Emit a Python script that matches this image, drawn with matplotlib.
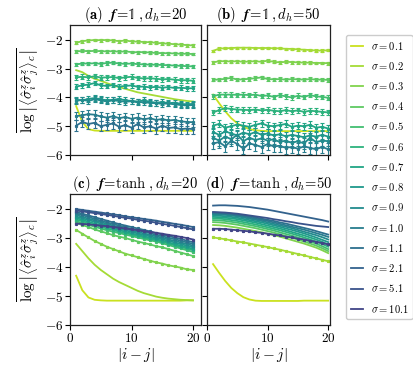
import matplotlib
matplotlib.use("Agg")
import matplotlib.pyplot as plt
import numpy as np
from matplotlib.lines import Line2D

plt.rcParams['mathtext.fontset'] = 'cm'
plt.rcParams['font.family'] = 'serif'
plt.rcParams['font.serif'] = ['cmr10', 'DejaVu Serif']
plt.rcParams['axes.formatter.use_mathtext'] = True

x = np.arange(1, 21)
sigmas = ['0.1', '0.2', '0.3', '0.4', '0.5', '0.6', '0.7', '0.8', '0.9', '1.0', '1.1', '2.1', '5.1', '10.1']
colors = plt.cm.viridis(np.linspace(0.92, 0.2, len(sigmas)))

########  (a) f = 1, d_h = 20  ########
a_data = {
    '0.1': [-4.30, -4.85, -5.10, -5.15, -5.16, -5.16, -5.16, -5.16, -5.16, -5.16, -5.16, -5.16, -5.16, -5.16, -5.16, -5.16, -5.16, -5.16, -5.16, -5.16],
    '0.2': [-3.05, -3.12, -3.25, -3.35, -3.42, -3.50, -3.58, -3.64, -3.70, -3.76, -3.82, -3.86, -3.90, -3.94, -3.98, -4.02, -4.06, -4.09, -4.12, -4.14],
    '0.3': [-2.10, -2.04, -2.02, -2.00, -2.01, -2.00, -2.02, -2.04, -2.02, -2.05, -2.06, -2.07, -2.08, -2.10, -2.12, -2.13, -2.15, -2.16, -2.18, -2.19],
    '0.4': [-2.40, -2.38, -2.39, -2.38, -2.39, -2.40, -2.39, -2.41, -2.40, -2.42, -2.43, -2.42, -2.44, -2.45, -2.46, -2.46, -2.47, -2.48, -2.48, -2.49],
    '0.5': [-2.85, -2.82, -2.82, -2.81, -2.83, -2.80, -2.79, -2.82, -2.83, -2.82, -2.84, -2.85, -2.86, -2.86, -2.87, -2.88, -2.89, -2.90, -2.91, -2.92],
    '0.6': [-3.30, -3.28, -3.30, -3.26, -3.31, -3.30, -3.29, -3.33, -3.30, -3.28, -3.32, -3.34, -3.33, -3.35, -3.37, -3.36, -3.38, -3.40, -3.40, -3.42],
    '0.7': [-3.62, -3.58, -3.55, -3.50, -3.58, -3.60, -3.57, -3.62, -3.60, -3.58, -3.63, -3.62, -3.65, -3.63, -3.66, -3.64, -3.67, -3.66, -3.68, -3.68],
    '0.8': [-4.08, -4.10, -4.05, -4.02, -4.06, -4.10, -4.08, -4.05, -4.10, -4.12, -4.14, -4.10, -4.15, -4.18, -4.16, -4.20, -4.18, -4.22, -4.24, -4.22],
    '0.9': [-4.12, -4.08, -4.12, -4.06, -4.10, -4.14, -4.10, -4.12, -4.15, -4.13, -4.17, -4.16, -4.19, -4.20, -4.22, -4.21, -4.24, -4.26, -4.28, -4.26],
    '1.0': [-4.65, -4.62, -4.58, -4.60, -4.66, -4.70, -4.65, -4.72, -4.68, -4.74, -4.70, -4.76, -4.72, -4.78, -4.75, -4.80, -4.78, -4.83, -4.85, -4.86],
    '1.1': [-4.98, -4.85, -4.92, -4.88, -5.00, -4.95, -4.90, -5.02, -4.96, -5.05, -4.92, -5.04, -5.00, -5.08, -4.98, -5.06, -5.04, -5.10, -5.08, -5.10],
}
a_err = {'0.3': 0.05, '0.4': 0.05, '0.5': 0.06, '0.6': 0.08, '0.7': 0.08,
         '0.8': 0.10, '0.9': 0.10, '1.0': 0.15, '1.1': 0.18}

########  (b) f = 1, d_h = 50  ########
b_data = {
    '0.1': [-3.90, -4.20, -4.48, -4.72, -4.90, -5.02, -5.10, -5.14, -5.16, -5.17, -5.17, -5.17, -5.17, -5.17, -5.17, -5.17, -5.17, -5.17, -5.17, -5.17],
    '0.2': [-2.38, -2.30, -2.29, -2.28, -2.27, -2.27, -2.27, -2.28, -2.28, -2.28, -2.29, -2.29, -2.31, -2.31, -2.33, -2.34, -2.35, -2.37, -2.37, -2.36],
    '0.3': [-2.78, -2.74, -2.74, -2.75, -2.74, -2.76, -2.75, -2.74, -2.76, -2.72, -2.76, -2.78, -2.76, -2.77, -2.78, -2.79, -2.79, -2.80, -2.80, -2.81],
    '0.4': [-3.38, -3.38, -3.35, -3.32, -3.38, -3.37, -3.35, -3.33, -3.30, -3.36, -3.37, -3.36, -3.38, -3.36, -3.37, -3.38, -3.36, -3.38, -3.38, -3.39],
    '0.5': [-3.96, -3.90, -3.90, -3.90, -3.91, -3.90, -3.92, -3.90, -3.95, -3.93, -3.98, -3.92, -3.96, -4.00, -3.94, -3.98, -3.92, -3.96, -3.98, -4.01],
    '0.6': [-4.52, -4.44, -4.37, -4.40, -4.42, -4.43, -4.44, -4.42, -4.45, -4.43, -4.46, -4.48, -4.44, -4.48, -4.45, -4.50, -4.46, -4.48, -4.50, -4.52],
    '0.7': [-4.98, -4.92, -5.05, -5.00, -4.94, -4.98, -5.02, -4.95, -4.90, -4.98, -5.00, -4.96, -4.92, -5.02, -4.98, -5.00, -4.95, -5.05, -5.02, -5.08],
    '0.8': [-5.20, -5.30, -5.18, -5.25, -5.32, -5.22, -5.28, -5.20, -5.30, -5.25, -5.32, -5.28, -5.35, -5.30, -5.34, -5.38, -5.32, -5.36, -5.30, -5.36],
    '0.9': [-5.40, -5.50, -5.36, -5.45, -5.30, -5.52, -5.40, -5.48, -5.42, -5.50, -5.45, -5.55, -5.50, -5.58, -5.52, -5.60, -5.40, -5.55, -5.50, -5.52],
    '1.0': [-5.60, -5.55, -5.70, -5.50, -5.62, -5.78, -5.60, -5.65, -5.72, -5.62, -5.70, -5.68, -5.75, -5.72, -5.78, -5.70, -5.75, -5.80, -5.72, -5.80],
}
b_err = {'0.2': 0.04, '0.3': 0.05, '0.4': 0.06, '0.5': 0.08, '0.6': 0.10,
         '0.7': 0.12, '0.8': 0.15, '0.9': 0.18, '1.0': 0.20}

########  (c) f = tanh, d_h = 20  ########
c_data = {
    '0.1': [-4.30, -4.80, -5.05, -5.13, -5.15, -5.16, -5.16, -5.16, -5.16, -5.16, -5.16, -5.16, -5.16, -5.16, -5.16, -5.16, -5.16, -5.16, -5.15, -5.15],
    '0.2': [-3.20, -3.45, -3.70, -3.92, -4.10, -4.25, -4.40, -4.52, -4.62, -4.72, -4.82, -4.90, -4.96, -5.02, -5.06, -5.09, -5.11, -5.13, -5.14, -5.15],
    '0.3': [-2.72, -2.85, -2.98, -3.10, -3.20, -3.30, -3.38, -3.46, -3.54, -3.60, -3.66, -3.72, -3.78, -3.84, -3.88, -3.94, -3.98, -4.02, -4.08, -4.10],
    '0.4': [-2.48, -2.55, -2.62, -2.70, -2.77, -2.83, -2.90, -2.95, -3.00, -3.06, -3.12, -3.17, -3.22, -3.28, -3.32, -3.38, -3.44, -3.50, -3.56, -3.62],
    '0.5': [-2.42, -2.48, -2.54, -2.61, -2.67, -2.73, -2.78, -2.83, -2.88, -2.93, -2.98, -3.03, -3.08, -3.12, -3.18, -3.24, -3.30, -3.36, -3.42, -3.48],
    '0.6': [-2.36, -2.42, -2.49, -2.55, -2.61, -2.67, -2.72, -2.78, -2.83, -2.88, -2.93, -2.98, -3.03, -3.08, -3.13, -3.19, -3.25, -3.31, -3.36, -3.42],
    '0.7': [-2.31, -2.37, -2.44, -2.50, -2.56, -2.62, -2.67, -2.73, -2.78, -2.84, -2.89, -2.94, -2.99, -3.04, -3.09, -3.15, -3.21, -3.26, -3.32, -3.37],
    '0.8': [-2.26, -2.32, -2.38, -2.44, -2.50, -2.56, -2.62, -2.68, -2.73, -2.79, -2.84, -2.89, -2.94, -2.99, -3.04, -3.10, -3.15, -3.21, -3.26, -3.32],
    '0.9': [-2.20, -2.27, -2.33, -2.39, -2.45, -2.51, -2.57, -2.63, -2.68, -2.74, -2.79, -2.84, -2.89, -2.94, -2.99, -3.05, -3.10, -3.15, -3.21, -3.26],
    '1.0': [-2.15, -2.21, -2.27, -2.34, -2.40, -2.46, -2.52, -2.57, -2.63, -2.68, -2.73, -2.78, -2.83, -2.89, -2.94, -2.99, -3.04, -3.09, -3.15, -3.20],
    '1.1': [-2.10, -2.16, -2.22, -2.28, -2.34, -2.40, -2.46, -2.52, -2.57, -2.62, -2.67, -2.72, -2.77, -2.83, -2.88, -2.93, -2.98, -3.03, -3.09, -3.14],
    '2.1': [-2.00, -2.03, -2.06, -2.09, -2.12, -2.15, -2.18, -2.21, -2.25, -2.28, -2.31, -2.34, -2.37, -2.40, -2.44, -2.47, -2.51, -2.54, -2.58, -2.62],
    '5.1': [-2.05, -2.08, -2.11, -2.14, -2.17, -2.20, -2.23, -2.27, -2.30, -2.33, -2.37, -2.40, -2.43, -2.47, -2.51, -2.54, -2.58, -2.62, -2.66, -2.70],
    '10.1': [-2.50, -2.51, -2.53, -2.55, -2.57, -2.59, -2.62, -2.64, -2.67, -2.70, -2.73, -2.76, -2.79, -2.82, -2.85, -2.89, -2.92, -2.96, -3.00, -3.05],
}

########  (d) f = tanh, d_h = 50  ########
d_data = {
    '0.1': [-3.90, -4.20, -4.48, -4.72, -4.90, -5.04, -5.12, -5.16, -5.17, -5.17, -5.17, -5.17, -5.17, -5.17, -5.17, -5.16, -5.16, -5.16, -5.16, -5.16],
    '0.2': [-2.98, -3.01, -3.04, -3.08, -3.12, -3.15, -3.19, -3.23, -3.27, -3.31, -3.36, -3.40, -3.45, -3.50, -3.55, -3.60, -3.65, -3.70, -3.75, -3.80],
    '0.3': [-2.55, -2.56, -2.58, -2.61, -2.64, -2.68, -2.72, -2.76, -2.80, -2.85, -2.90, -2.95, -3.01, -3.07, -3.13, -3.19, -3.26, -3.33, -3.42, -3.52],
    '0.4': [-2.45, -2.46, -2.48, -2.51, -2.54, -2.58, -2.62, -2.66, -2.71, -2.76, -2.81, -2.87, -2.93, -2.99, -3.05, -3.12, -3.19, -3.26, -3.35, -3.45],
    '0.5': [-2.38, -2.39, -2.41, -2.44, -2.47, -2.51, -2.55, -2.59, -2.64, -2.69, -2.74, -2.80, -2.86, -2.92, -2.98, -3.05, -3.12, -3.19, -3.28, -3.38],
    '0.6': [-2.32, -2.33, -2.35, -2.38, -2.41, -2.45, -2.49, -2.53, -2.58, -2.63, -2.68, -2.73, -2.79, -2.85, -2.91, -2.98, -3.05, -3.12, -3.20, -3.30],
    '0.7': [-2.27, -2.28, -2.30, -2.32, -2.35, -2.39, -2.43, -2.47, -2.52, -2.57, -2.62, -2.67, -2.73, -2.79, -2.85, -2.91, -2.98, -3.05, -3.13, -3.22],
    '0.8': [-2.22, -2.23, -2.25, -2.27, -2.30, -2.34, -2.38, -2.42, -2.46, -2.51, -2.56, -2.61, -2.67, -2.72, -2.78, -2.84, -2.91, -2.98, -3.06, -3.14],
    '0.9': [-2.18, -2.19, -2.20, -2.22, -2.25, -2.29, -2.33, -2.37, -2.41, -2.46, -2.51, -2.56, -2.61, -2.66, -2.72, -2.78, -2.84, -2.90, -2.97, -3.05],
    '1.0': [-2.15, -2.16, -2.17, -2.19, -2.22, -2.25, -2.29, -2.33, -2.37, -2.41, -2.46, -2.51, -2.56, -2.61, -2.66, -2.71, -2.77, -2.83, -2.89, -2.96],
    '1.1': [-2.12, -2.13, -2.14, -2.16, -2.19, -2.22, -2.25, -2.29, -2.33, -2.37, -2.41, -2.46, -2.50, -2.55, -2.60, -2.65, -2.70, -2.76, -2.82, -2.88],
    '2.1': [-1.88, -1.87, -1.87, -1.88, -1.89, -1.91, -1.93, -1.96, -1.99, -2.02, -2.06, -2.10, -2.14, -2.18, -2.22, -2.26, -2.30, -2.34, -2.38, -2.43],
    '5.1': [-2.10, -2.11, -2.12, -2.14, -2.16, -2.19, -2.22, -2.25, -2.28, -2.31, -2.35, -2.38, -2.42, -2.45, -2.49, -2.52, -2.55, -2.58, -2.60, -2.62],
    '10.1': [-2.68, -2.68, -2.69, -2.71, -2.73, -2.75, -2.77, -2.80, -2.82, -2.85, -2.88, -2.91, -2.95, -2.98, -3.02, -3.05, -3.09, -3.13, -3.17, -3.22],
}

titles = [r'$\mathbf{(a)}\ \ \boldsymbol{f}\!=\!\mathbb{1}\,,d_h\!=\!20$',
          r'$\mathbf{(b)}\ \ \boldsymbol{f}\!=\!\mathbb{1}\,,d_h\!=\!50$',
          r'$\mathbf{(c)}\ \ \boldsymbol{f}\!=\!\tanh\,,d_h\!=\!20$',
          r'$\mathbf{(d)}\ \ \boldsymbol{f}\!=\!\tanh\,,d_h\!=\!50$']

W, H = 413, 365
fig = plt.figure(figsize=(W / 100, H / 100), dpi=100)

def box(l, t, r, b):
    return [l / W, 1 - b / H, (r - l) / W, (b - t) / H]

ax_a = fig.add_axes(box(70, 25, 201, 155))
ax_b = fig.add_axes(box(207, 25, 330, 155))
ax_c = fig.add_axes(box(70, 194, 201, 325))
ax_d = fig.add_axes(box(207, 194, 330, 325))
axes = [ax_a, ax_b, ax_c, ax_d]


def draw(ax, data, err, bar_small=()):
    for s, c in zip(sigmas, colors):
        if s not in data:
            continue
        y = data[s]
        if s in err:
            ax.errorbar(x, y, yerr=err[s], color=c, lw=1.3, elinewidth=0.8,
                        capsize=1.3, capthick=0.8, marker='s', ms=1.3)
        elif s in bar_small:
            ax.errorbar(x, y, yerr=0.025, color=c, lw=1.3, elinewidth=0.7,
                        capsize=1.0, capthick=0.7, marker='s', ms=1.3)
        else:
            ax.plot(x, y, color=c, lw=1.3)


draw(ax_a, a_data, a_err)
draw(ax_b, b_data, b_err)
draw(ax_c, c_data, {}, bar_small=sigmas[2:])
draw(ax_d, d_data, {}, bar_small=('0.2', '10.1'))

for i, ax in enumerate(axes):
    ax.set_ylim(-6, -1.48)
    ax.set_yticks([-6, -5, -4, -3, -2])
    ax.set_xticks([0, 10, 20])
    ax.tick_params(direction='out', length=3.5, width=0.8, labelsize=9.5, pad=1.5)
    for sp in ax.spines.values():
        sp.set_linewidth(0.9)
        sp.set_color('#222222')
    ax.set_title(titles[i], fontsize=10.5, pad=3)
    if i in (0, 1):
        ax.tick_params(labelbottom=False)
    if i in (1, 3):
        ax.tick_params(labelleft=False)
        ax.set_xlim(0, 20.3)
    else:
        ax.set_xlim(0, 21.3)
    if i in (2, 3):
        ax.set_xlabel(r'$|i-j|$', fontsize=11, labelpad=1)

ylab = r'$\overline{\log\left|\left\langle\hat{\sigma}_i^z\hat{\sigma}_j^z\right\rangle_c\right|}$'
ax_a.set_ylabel(ylab, fontsize=11, labelpad=2)
ax_c.set_ylabel(ylab, fontsize=11, labelpad=2)

handles = [Line2D([], [], color=c, lw=1.3) for c in colors]
labels = [r'$\sigma=%s$' % s for s in sigmas]
fig.legend(handles, labels, loc='upper left', bbox_to_anchor=(341 / W, 1 - 30 / H),
           fontsize=7.6, handlelength=1.2, labelspacing=0.78, borderpad=0.4,
           handletextpad=0.7, frameon=True, edgecolor='#cccccc', framealpha=1)

plt.savefig('out.png', dpi=100)
